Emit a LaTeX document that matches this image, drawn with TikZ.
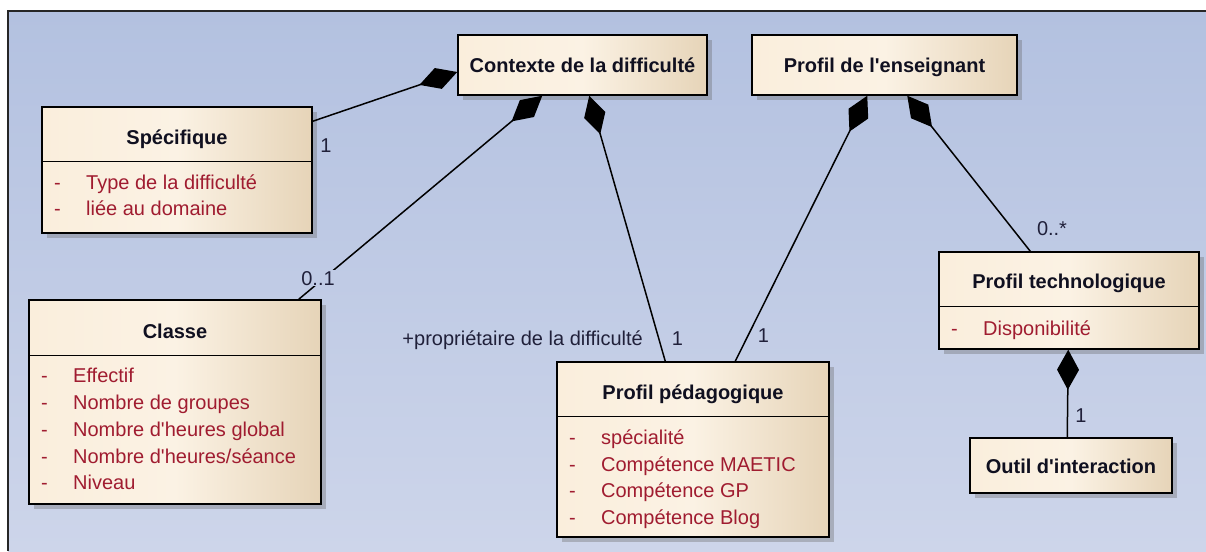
\documentclass[tikz,border=0pt]{standalone}
\usepackage{fontspec}
\setmainfont[Ligatures=CommonOff]{Liberation Sans}
\usetikzlibrary{arrows.meta,shadows}
\definecolor{bgtop}{RGB}{179,193,224}
\definecolor{bgbot}{RGB}{205,213,234}
\definecolor{bgmid}{RGB}{192,203,229}
\definecolor{boxL}{RGB}{250,238,220}
\definecolor{boxM}{RGB}{251,242,228}
\definecolor{boxR}{RGB}{230,212,184}
\definecolor{attrred}{RGB}{160,28,48}
\definecolor{lblc}{RGB}{32,32,58}
\definecolor{ttl}{RGB}{16,16,32}
\begin{document}
\begin{tikzpicture}[x=1pt,y=-1pt,
  umlbox/.style={draw=black, line width=1.5pt, left color=boxL, right color=boxR, middle color=boxM,
    inner sep=0pt, drop shadow={shadow xshift=5pt,shadow yshift=-5pt,fill=black!60,opacity=0.35}},
  single/.style={umlbox, font=\bfseries\fontsize{20}{24}\selectfont, text=ttl, text height=15pt, text depth=0pt},
  titletext/.style={font=\bfseries\fontsize{20}{24}\selectfont, text=ttl, anchor=base, inner sep=0pt},
  attr/.style={font=\fontsize{20}{24}\selectfont, text=attrred, anchor=base west, inner sep=0pt},
  lbl/.style={font=\fontsize{20}{24}\selectfont, text=lblc, anchor=base, inner sep=0pt},
  divider/.style={line width=1.5pt, draw=black},
  comp/.style={line width=1.5pt, draw=black, {Diamond[length=40pt,width=22pt]}-}
]
\useasboundingbox (0,0) rectangle (1206,551);
\fill[white] (0,0) rectangle (1206,551);
\fill[top color=bgtop, bottom color=bgbot] (8,11) rectangle (1206,551);
\draw[line width=1.5pt, draw=black!85] (8,551) -- (8,11) -- (1206,11);

% single-compartment classes
\node[single, minimum width=249pt, minimum height=60pt] (ctx) at (582.5,65) {Contexte de la difficulté};
\node[single, minimum width=265pt, minimum height=60pt] (ens) at (884.5,65) {Profil de l\textquotesingle enseignant};
\node[single, minimum width=202pt, minimum height=55pt] (outil) at (1071,465.5) {Outil d\textquotesingle interaction};

% Specifique
\node[umlbox, minimum width=270pt, minimum height=126pt] (spec) at (177,170) {};
\draw[divider] ([yshift=-55pt]spec.north west) -- ([yshift=-55pt]spec.north east);
\node[titletext] (specT) at (177,144) {Spécifique};
\node[attr] (specA1) at (54,189) {\makebox[32pt][l]{-}Type de la difficulté};
\node[attr] (specA2) at (54,215) {\makebox[32pt][l]{-}liée au domaine};

% Classe
\node[umlbox, minimum width=292pt, minimum height=204pt] (cls) at (175,402) {};
\draw[divider] ([yshift=-56pt]cls.north west) -- ([yshift=-56pt]cls.north east);
\node[titletext] (clsT) at (175,338) {Classe};
\node[attr] (clsA1) at (41,382) {\makebox[32pt][l]{-}Effectif};
\node[attr] (clsA2) at (41,409) {\makebox[32pt][l]{-}Nombre de groupes};
\node[attr] (clsA3) at (41,436) {\makebox[32pt][l]{-}Nombre d\textquotesingle heures global};
\node[attr] (clsA4) at (41,463) {\makebox[32pt][l]{-}Nombre d\textquotesingle heures/séance};
\node[attr] (clsA5) at (41,489) {\makebox[32pt][l]{-}Niveau};

% Profil pedagogique
\node[umlbox, minimum width=272pt, minimum height=175pt] (ped) at (693,449.5) {};
\draw[divider] ([yshift=-55pt]ped.north west) -- ([yshift=-55pt]ped.north east);
\node[titletext] (pedT) at (693,399) {Profil pédagogique};
\node[attr] (pedA1) at (569,444) {\makebox[32pt][l]{-}spécialité};
\node[attr] (pedA2) at (569,471) {\makebox[32pt][l]{-}Compétence MAETIC};
\node[attr] (pedA3) at (569,497.5) {\makebox[32pt][l]{-}Compétence GP};
\node[attr] (pedA4) at (569,524) {\makebox[32pt][l]{-}Compétence Blog};

% Profil technologique
\node[umlbox, minimum width=260pt, minimum height=97pt] (tech) at (1069,300.5) {};
\draw[divider] ([yshift=-55pt]tech.north west) -- ([yshift=-55pt]tech.north east);
\node[titletext] (techT) at (1069,288) {Profil technologique};
\node[attr] (techA1) at (951,335) {\makebox[32pt][l]{-}Disponibilité};

% composition connectors
\draw[comp] ([yshift=-7pt]ctx.west) -- ([yshift=-15pt]spec.north east);
\draw[comp] ([xshift=85pt]ctx.south west) -- ([xshift=-23pt]cls.north east);
\draw[comp] ([xshift=132pt]ctx.south west) -- ([xshift=109pt]ped.north west);
\draw[comp] ([xshift=116pt]ens.south west) -- ([xshift=179pt]ped.north west);
\draw[comp] ([xshift=156pt]ens.south west) -- ([xshift=92pt]tech.north west);
\draw[comp] ([xshift=130pt]tech.south west) -- ([xshift=98pt]outil.north west);

% multiplicity / role labels
\node[lbl] (m1) at (326,152) {1};
\node[lbl, fill=bgmid, inner sep=1pt] (m2) at (318,285) {0..1};
\node[lbl, anchor=base east] (r1) at (643,345) {+propriétaire de la difficulté};
\node[lbl] (m3) at (677.5,345) {1};
\node[lbl] (m4) at (763.5,342) {1};
\node[lbl] (m5) at (1052,235) {0..*};
\node[lbl] (m6) at (1081,422) {1};
\end{tikzpicture}
\end{document}
